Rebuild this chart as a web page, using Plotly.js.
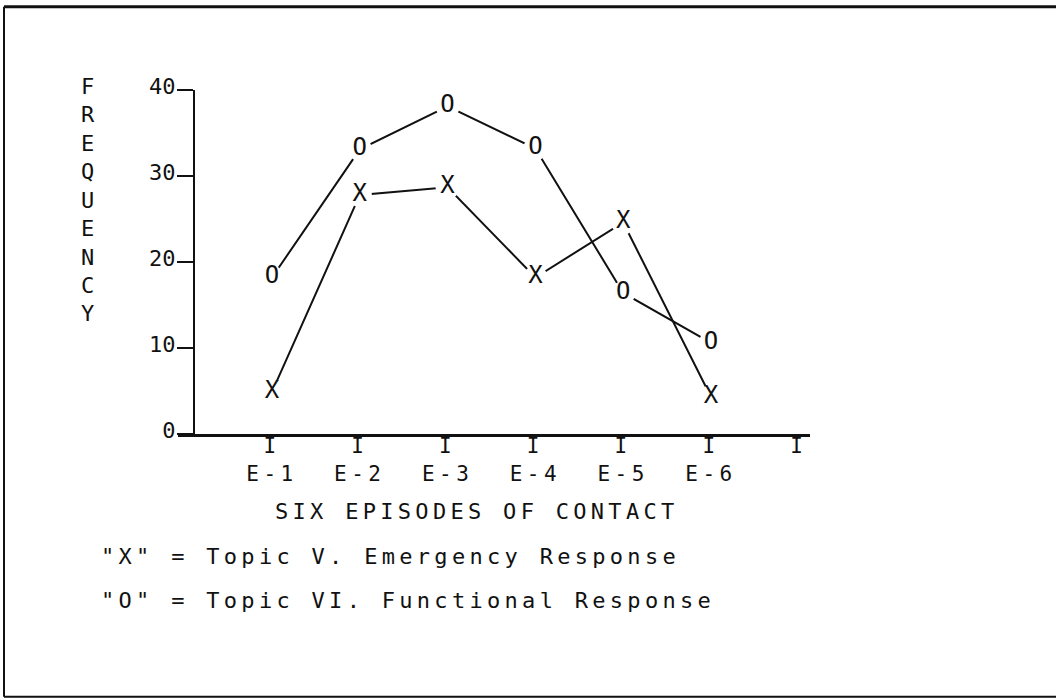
<!DOCTYPE html>
<html>
<head>
<meta charset="utf-8">
<script src="https://cdn.plot.ly/plotly-3.0.1.min.js"></script>
<style>
  html, body { margin: 0; padding: 0; background: #fff; }
  #chart { width: 1056px; height: 700px; }
  text.annotation-text { letter-spacing: 4.3px; }
  .xtick text { letter-spacing: 4.5px; }
</style>
</head>
<body>
<div id="chart"></div>
<script>
// ---- data ----
const episodes = ["E-1", "E-2", "E-3", "E-4", "E-5", "E-6"];
const emergencyResponse = [4.9, 27.8, 28.7, 18.2, 24.6, 4.3];   // "X" series
const functionalResponse = [18.2, 33.1, 38.1, 33.2, 16.4, 10.6]; // "O" series
const yTickValues = [0, 10, 20, 30, 40];
const yTickLabels = ["0", "10", "20", "30", "40"];
const xAxisTitle = "SIX EPISODES OF CONTACT";
const yAxisTitle = "FREQUENCY";
const legendX = "\"X\" = Topic V. Emergency Response";
const legendO = "\"O\" = Topic VI. Functional Response";
const markX = "X";
const markO = "O";

const FONT = "DejaVu Sans Mono, monospace";
const INK = "#111";

const xPos = episodes.map((e, i) => i + 1);
const tickVals = xPos.concat([episodes.length + 1]);
const tickText = episodes.map(e => "I<br>" + e).concat(["I"]);

function seriesTrace(values, mark) {
  return {
    type: "scatter",
    x: xPos,
    y: values,
    mode: "lines+markers+text",
    text: values.map(() => mark),
    textposition: "middle center",
    textfont: { family: FONT, size: 24, color: INK },
    marker: { size: 24, color: "#fff", line: { width: 0 } },
    line: { color: INK, width: 2 },
    cliponaxis: false,
    hoverinfo: "skip"
  };
}

const traces = [
  seriesTrace(functionalResponse, markO),
  seriesTrace(emergencyResponse, markX)
];

// plot-area geometry helpers (pixels -> paper)
const L = 178, R = 810, T = 89.5, B = 434.5;
const px = v => (v - L) / (R - L);
const py = v => (B - v) / (B - T);
// x range so that tick 1 sits at 272 px and tick 6 at 711 px
const unit = (711 - 272) / 5;
const xr0 = 1 - (272 - L) / unit;
const xr1 = 1 + (R - 272) / unit;

const annotations = [];
yAxisTitle.split("").forEach((ch, i) => {
  annotations.push({
    xref: "paper", yref: "paper", x: px(89.5), y: py(86 + i * 28.5),
    xanchor: "center", yanchor: "middle", showarrow: false,
    text: ch,
    font: { family: FONT, size: 22, color: INK }
  });
});
annotations.push(
  {
    xref: "paper", yref: "paper", x: px(477), y: py(512),
    xanchor: "center", yanchor: "middle", showarrow: false,
    text: xAxisTitle,
    font: { family: FONT, size: 22, color: INK }
  },
  {
    xref: "paper", yref: "paper", x: px(98.5), y: py(557),
    xanchor: "left", yanchor: "middle", showarrow: false,
    text: legendX,
    font: { family: FONT, size: 22, color: INK }
  },
  {
    xref: "paper", yref: "paper", x: px(98.5), y: py(601),
    xanchor: "left", yanchor: "middle", showarrow: false,
    text: legendO,
    font: { family: FONT, size: 22, color: INK }
  }
);

const layout = {
  width: 1056,
  height: 700,
  margin: { l: L, r: 1056 - R, t: T, b: 700 - B, pad: 0 },
  paper_bgcolor: "#fff",
  plot_bgcolor: "#fff",
  showlegend: false,
  font: { family: FONT, color: INK },
  xaxis: {
    range: [xr0, xr1],
    showgrid: false,
    zeroline: false,
    showline: true,
    linewidth: 3,
    linecolor: INK,
    ticks: "",
    tickvals: tickVals,
    ticktext: tickText,
    tickfont: { family: FONT, size: 21, color: INK },
    ticklabelstandoff: -9,
    fixedrange: true
  },
  yaxis: {
    range: [0, 40],
    anchor: "free",
    position: px(193.5),
    showgrid: false,
    zeroline: false,
    showline: true,
    linewidth: 2.5,
    linecolor: INK,
    ticks: "outside",
    ticklen: 15.5,
    tickwidth: 2.5,
    tickcolor: INK,
    tickvals: yTickValues,
    ticktext: yTickLabels,
    tickfont: { family: FONT, size: 22, color: INK },
    ticklabelshift: -4,
    ticklabelstandoff: -3,
    fixedrange: true
  },
  annotations: annotations,
  shapes: [
    { type: "line", xref: "paper", yref: "paper", x0: px(4), x1: px(1056), y0: py(6), y1: py(6), line: { color: INK, width: 3 } },
    { type: "line", xref: "paper", yref: "paper", x0: px(4), x1: px(4), y0: py(6), y1: py(698), line: { color: INK, width: 2 } },
    { type: "line", xref: "paper", yref: "paper", x0: px(4), x1: px(1056), y0: py(698), y1: py(698), line: { color: INK, width: 2 } }
  ]
};

Plotly.newPlot("chart", traces, layout, { displayModeBar: false, staticPlot: true });
</script>
</body>
</html>
